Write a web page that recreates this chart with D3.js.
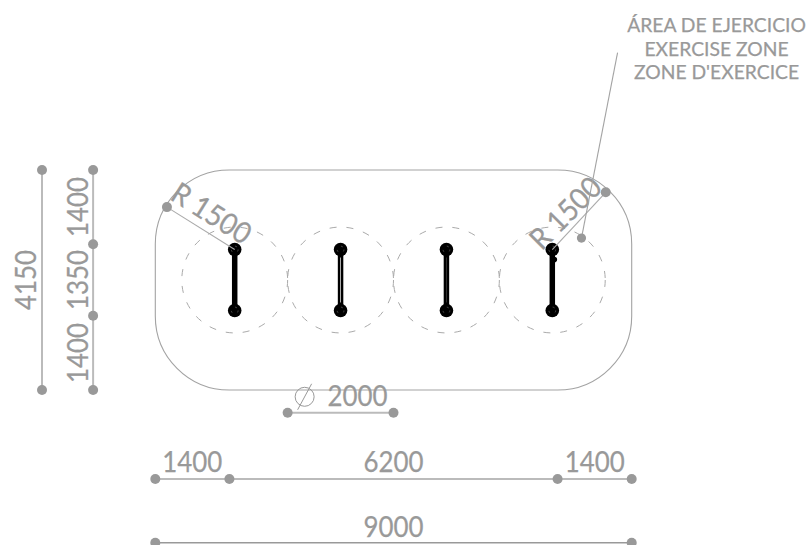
<!DOCTYPE html>
<html><head><meta charset="utf-8">
<script src="https://cdn.jsdelivr.net/npm/d3@7"></script>
<style>html,body{margin:0;background:#fff}svg{display:block}text{fill:#999;stroke:#999;stroke-width:.25;font-family:Lato,sans-serif}</style>
</head><body><svg id="c" width="811" height="545"></svg>
<script>
// All values are millimetres on the plan
const planWidth = 9000, planDepth = 4150, cornerRadius = 1400;
const circleCentersX = [1500, 3500, 5500, 7500];
const circleCenterY = 2075, circleDiameter = 2000;
const postEndsY = [1500, 2650];
const postInnerLine = [0, 0.9, 0.25, 0];
const bottomTicks = [0, 1400, 7600, 9000];
const bottomLabels = ["1400", "6200", "1400"];
const bottomRowY = 5830, totalRowY = 7030, diameterRowY = 4580;
const sideTicks = [0, 1400, 2750, 4150];
const sideLabels = ["1400", "1350", "1400"];
const sideRowX = -1175, totalRowX = -2140;
const titleLines = ["ÁREA DE EJERCICIO", "EXERCISE ZONE", "ZONE D'EXERCICE"];
const radiusAnchors = [[220, 700], [8510, 420]];
const leader = [[8733, -2215], [8051, 1285]];

const x = d3.scaleLinear().domain([0, planWidth]).range([155.3, 631.7]);
const y = d3.scaleLinear().domain([0, planDepth]).range([170, 390]);
const r = d3.scaleLinear().domain([0, planWidth]).range([0, 476.4]);
const svg = d3.select("#c");
const grey = "#999", light = "#bbb";

// plan outline
const p = d3.path(), R = r(cornerRadius);
const L = x(0), Rt = x(planWidth), T = y(0), B = y(planDepth);
p.moveTo(L + R, T); p.lineTo(Rt - R, T); p.arcTo(Rt, T, Rt, T + R, R);
p.lineTo(Rt, B - R); p.arcTo(Rt, B, Rt - R, B, R);
p.lineTo(L + R, B); p.arcTo(L, B, L, B - R, R);
p.lineTo(L, T + R); p.arcTo(L, T, L + R, T, R); p.closePath();
svg.append("path").attr("d", p.toString()).attr("fill", "none").attr("stroke", "#a3a3a3").attr("stroke-width", 1.1);

// exercise circles
svg.selectAll(".zone").data(circleCentersX).join("circle").attr("class", "zone")
  .attr("cx", d => x(d)).attr("cy", y(circleCenterY)).attr("r", r(circleDiameter / 2))
  .attr("fill", "none").attr("stroke", "#aaa").attr("stroke-width", 1).attr("stroke-dasharray", "7 10");

// helpers
const seg = (x1, y1, x2, y2, c, w) => svg.append("line").attr("x1", x1).attr("y1", y1).attr("x2", x2).attr("y2", y2).attr("stroke", c).attr("stroke-width", w);
const dot = (cx, cy, rad = 5) => svg.append("circle").attr("cx", cx).attr("cy", cy).attr("r", rad).attr("fill", grey);
const label = (s, cx, cy, rot = 0, size = 29.5, tl = null) => {
  const t = svg.append("text").text(s).attr("text-anchor", "middle").attr("font-size", size)
    .attr("transform", `translate(${cx},${cy}) rotate(${rot})`);
  if (tl) t.attr("textLength", tl).attr("lengthAdjust", "spacingAndGlyphs");
  return t;
};

// posts
circleCentersX.forEach((cx, i) => {
  seg(x(cx), y(postEndsY[0]), x(cx), y(postEndsY[1]), "#000", 5.5);
  if (postInnerLine[i]) seg(x(cx), y(postEndsY[0]) + 8, x(cx), y(postEndsY[1]) - 8, "#fff", 0.8).attr("opacity", postInnerLine[i]);
  postEndsY.forEach(py => {
    svg.append("circle").attr("cx", x(cx)).attr("cy", y(py)).attr("r", 6.8).attr("fill", "#000");
    svg.append("circle").attr("cx", x(cx)).attr("cy", y(py)).attr("r", 3.4).attr("fill", "none")
      .attr("stroke", "#666").attr("stroke-width", .7).attr("stroke-dasharray", "2 6");
  });
});
svg.append("circle").attr("cx", x(circleCentersX[3]) + 2).attr("cy", y(postEndsY[0]) + 10).attr("r", 2.8).attr("fill", "#000");

// radius lines
const [a, b] = radiusAnchors;
seg(x(a[0]), y(a[1]), x(circleCentersX[0]), y(postEndsY[0]), "#aaa", 1.1);
seg(x(b[0]), y(b[1]), x(circleCentersX[3]), y(postEndsY[0]), "#aaa", 1.1);
dot(x(a[0]), y(a[1])); dot(x(b[0]), y(b[1]));
label("R 1500", x(a[0]) + 39, y(a[1]) + 15, 32, 29.5, 88);
label("R 1500", x(b[0]) - 33, y(b[1]) + 28, -45, 29.5, 88);

// leader + title
seg(x(leader[0][0]), y(leader[0][1]), x(leader[1][0]), y(leader[1][1]), "#a3a3a3", 1.1);
dot(x(leader[1][0]), y(leader[1][1]), 4.6);
titleLines.forEach((s, i) => label(s, 716.5, 32 + i * 23.7, 0, 19.3).attr("stroke-width", .45));

// diameter
seg(x(2500), y(diameterRowY), x(4500), y(diameterRowY), light, 2);
dot(x(2500), y(diameterRowY)); dot(x(4500), y(diameterRowY));
label("2000", x(3500) + 17, y(diameterRowY) - 7, 0, 29.5, 60);
const sx = x(2500) + 17, sy = y(diameterRowY) - 16;
svg.append("circle").attr("cx", sx).attr("cy", sy).attr("r", 9.5).attr("fill", "none").attr("stroke", grey).attr("stroke-width", 1);
seg(sx - 7, sy + 13, sx + 7, sy - 13, grey, 1);

// bottom rows
d3.pairs(bottomTicks).forEach(([u, v], i) => {
  seg(x(u), y(bottomRowY), x(v), y(bottomRowY), light, 2);
  label(bottomLabels[i], x((u + v) / 2), y(bottomRowY) - 7, 0, 29.5, 60);
});
bottomTicks.forEach(t => dot(x(t), y(bottomRowY)));
seg(x(0), y(totalRowY), x(planWidth), y(totalRowY), grey, 1.5);
dot(x(0), y(totalRowY)); dot(x(planWidth), y(totalRowY));
label(String(planWidth), x(planWidth / 2), y(totalRowY) - 6, 0, 29.5, 60);

// side rows
d3.pairs(sideTicks).forEach(([u, v], i) => {
  seg(x(sideRowX), y(u), x(sideRowX), y(v), light, 2);
  label(sideLabels[i], x(sideRowX) - 5.5, y((u + v) / 2), -90, 29.5, 60);
});
sideTicks.forEach(t => dot(x(sideRowX), y(t)));
seg(x(totalRowX), y(0), x(totalRowX), y(planDepth), light, 2);
dot(x(totalRowX), y(0)); dot(x(totalRowX), y(planDepth));
label(String(planDepth), x(totalRowX) - 6, y(planDepth / 2), -90, 29.5, 60);
</script></body></html>
